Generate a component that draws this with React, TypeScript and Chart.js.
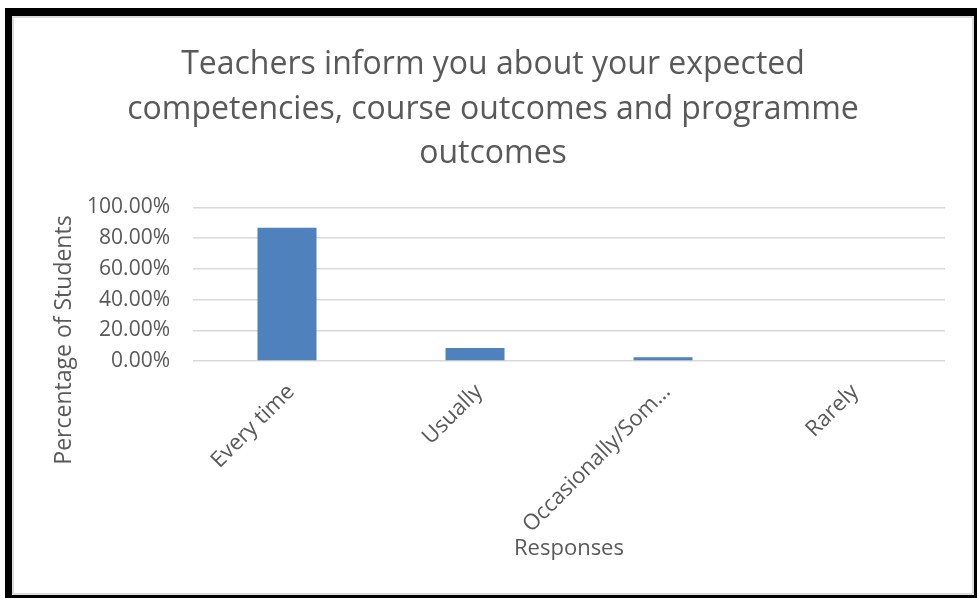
import React, { useEffect, useRef } from "react";
import { Chart, registerables } from "chart.js";

Chart.register(...registerables);

const titleLines = [
  "Teachers inform you about your expected",
  "competencies, course outcomes and programme",
  "outcomes",
];
const categories = ["Every time", "Usually", "Occasionally/Som…", "Rarely"];
const percentages = [86.8, 8.5, 2.5, 0];
const yTicks = [0, 20, 40, 60, 80, 100];
const yAxisTitle = "Percentage of Students";
const xAxisTitle = "Responses";

const FONT = "'Open Sans', 'Noto Sans', sans-serif";
const GREY = "#595959";

export default function App() {
  const ref = useRef<HTMLCanvasElement | null>(null);

  useEffect(() => {
    if (!ref.current) return;
    const yTitlePlugin = {
      id: "yTitlePlugin",
      afterDraw(chart: any) {
        const ctx = chart.ctx;
        ctx.save();
        ctx.translate(50, 322);
        ctx.rotate(-Math.PI / 2);
        ctx.font = `23px ${FONT}`;
        ctx.fillStyle = GREY;
        ctx.textAlign = "center";
        ctx.textBaseline = "middle";
        ctx.fillText(yAxisTitle, 0, 0);
        ctx.restore();
      },
    };
    const chart = new Chart(ref.current, {
      type: "bar",
      data: {
        labels: categories,
        datasets: [
          {
            data: percentages,
            backgroundColor: "#4f81bd",
            borderWidth: 0,
            categoryPercentage: 1,
            barPercentage: 0.314,
          },
        ],
      },
      options: {
        responsive: false,
        animation: false,
        devicePixelRatio: 1,
        layout: { padding: { left: 27, right: 27, top: 0, bottom: 31 } },
        plugins: {
          legend: { display: false },
          tooltip: { enabled: false },
          title: {
            display: true,
            text: titleLines,
            color: GREY,
            font: { family: FONT, size: 32, weight: "normal", lineHeight: 1.39 },
            padding: { top: 25, bottom: 31 },
          },
        },
        scales: {
          x: {
            grid: { display: false, drawTicks: false },
            border: { display: false },
            ticks: {
              color: GREY,
              font: { family: FONT, size: 22 },
              minRotation: 45,
              maxRotation: 45,
              autoSkip: false,
              padding: 18,
              labelOffset: 4,
            },
            title: {
              display: true,
              text: xAxisTitle,
              color: GREY,
              font: { family: FONT, size: 22, lineHeight: 1.2 },
              padding: 0,
            },
            afterFit(scale: any) {
              scale.height = 201;
            },
          },
          y: {
            min: 0,
            max: 100,
            afterBuildTicks(scale: any) {
              scale.ticks = yTicks.map((v) => ({ value: v }));
            },
            grid: { color: "#d9d9d9", lineWidth: 1.5, drawTicks: false },
            border: { display: false },
            ticks: {
              color: GREY,
              font: { family: FONT, size: 21 },
              padding: 23,
              callback: (v: any) => Number(v).toFixed(2) + "%",
            },
            afterFit(scale: any) {
              scale.width = 152;
            },
          },
        },
      },
      plugins: [yTitlePlugin],
    });
    return () => chart.destroy();
  }, []);

  return (
    <div
      style={{
        position: "fixed",
        left: 0,
        top: 0,
        width: 977,
        height: 598,
        background: "#ffffff",
      }}
    >
      <div
        style={{
          position: "absolute",
          left: 5,
          top: 8,
          width: 972,
          height: 590,
          boxSizing: "border-box",
          borderStyle: "solid",
          borderColor: "#000000",
          borderWidth: "8px 3px 3px 7px",
        }}
      >
        <div
          style={{
            position: "absolute",
            left: 0,
            top: 0,
            right: 0,
            bottom: 0,
            boxSizing: "border-box",
            border: "2px solid #dcdcdc",
            background: "#ffffff",
          }}
        >
          <canvas ref={ref} width={958} height={575} style={{ display: "block" }} />
        </div>
      </div>
    </div>
  );
}
